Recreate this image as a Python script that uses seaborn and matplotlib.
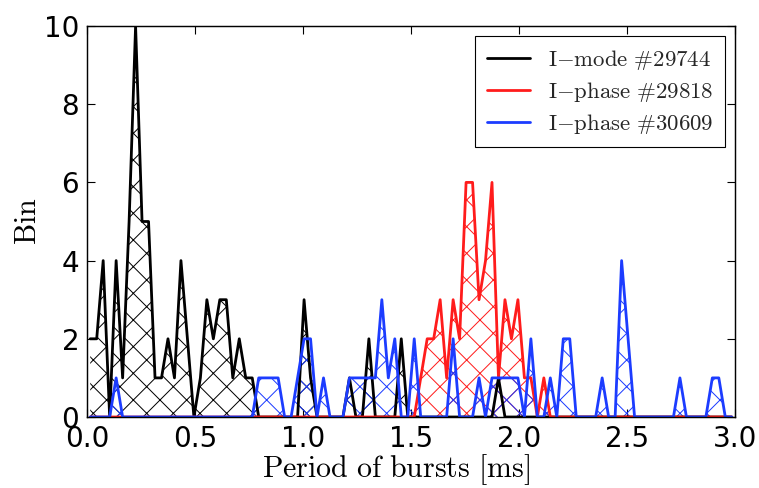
import matplotlib
matplotlib.use("Agg")
import matplotlib.pyplot as plt
import numpy as np
import seaborn as sns

# histogram of burst periods, 0.03 ms bins between 0 and 3 ms
bin_edges = np.linspace(0.0, 3.0, 101)
bin_centres = 0.5 * (bin_edges[:-1] + bin_edges[1:])

# counts per bin, rows of 10 bins
imode_29744 = [2, 2, 4, 0, 4, 1, 5, 10, 5, 5,
               1, 1, 2, 1, 4, 2, 0, 1, 3, 2,
               3, 3, 1, 2, 1, 1, 0, 0, 0, 0,
               0, 0, 0, 3, 1, 0, 0, 0, 0, 0,
               1, 0, 0, 2, 0, 0, 0, 0, 2, 0,
               0, 0, 0, 0, 0, 0, 0, 0, 0, 0,
               0, 0, 0, 1, 0, 0, 0, 0, 0, 0,
               0, 0, 0, 0, 0, 0, 0, 0, 0, 0,
               0, 0, 0, 0, 0, 0, 0, 0, 0, 0,
               0, 0, 0, 0, 0, 0, 0, 0, 0, 0]

iphase_29818 = [0, 0, 0, 0, 0, 0, 0, 0, 0, 0,
                0, 0, 0, 0, 0, 0, 0, 0, 0, 0,
                0, 0, 0, 0, 0, 0, 0, 0, 0, 0,
                0, 0, 0, 0, 0, 0, 0, 0, 0, 0,
                0, 0, 0, 0, 0, 0, 0, 0, 0, 0,
                0, 1, 2, 2, 3, 1, 3, 2, 6, 6,
                3, 4, 6, 1, 3, 2, 3, 1, 1, 0,
                1, 0, 0, 0, 0, 0, 0, 0, 0, 0,
                0, 0, 0, 0, 0, 0, 0, 0, 0, 0,
                0, 0, 0, 0, 0, 0, 0, 0, 0, 0]

iphase_30609 = [0, 0, 0, 0, 1, 0, 0, 0, 0, 0,
                0, 0, 0, 0, 0, 0, 0, 0, 0, 0,
                0, 0, 0, 0, 0, 0, 1, 1, 1, 1,
                0, 0, 1, 2, 2, 0, 1, 0, 0, 0,
                1, 1, 1, 1, 1, 3, 1, 2, 0, 0,
                2, 0, 0, 0, 0, 0, 2, 0, 0, 0,
                1, 0, 1, 1, 1, 1, 1, 0, 2, 0,
                0, 1, 0, 2, 2, 0, 0, 0, 0, 1,
                0, 0, 4, 2, 0, 0, 0, 0, 0, 0,
                0, 1, 0, 0, 0, 0, 1, 1, 0, 0]

labels = [r'$\mathrm{I{-}mode\ \#29744}$',
          r'$\mathrm{I{-}phase\ \#29818}$',
          r'$\mathrm{I{-}phase\ \#30609}$']
colors = ['black', '#ff1c1c', '#1c3cff']

sns.set_style("ticks")
plt.rcParams['mathtext.fontset'] = 'cm'
plt.rcParams['font.family'] = ['DejaVu Sans']
plt.rcParams['hatch.linewidth'] = 0.9

fig = plt.figure(figsize=(759 / 80, 488 / 80), dpi=80)
ax = fig.add_axes([0.1146, 0.1455, 0.8538, 0.8012])

for counts, lab, col in zip([imode_29744, iphase_29818, iphase_30609], labels, colors):
    sns.lineplot(x=bin_centres, y=counts, color=col, lw=2.5, label=lab, ax=ax)
    ax.fill_between(bin_centres, 0, counts, facecolor='none', edgecolor=col,
                    hatch='x', linewidth=0)

ax.set_xlim(0, 3)
ax.set_ylim(0, 10)
ax.set_xticks(np.arange(0, 3.01, 0.5))
ax.set_yticks(np.arange(0, 11, 2))
ax.tick_params(direction='in', length=7, width=1, top=True, right=True,
               labelsize=25, pad=7, colors='black')
for sp in ax.spines.values():
    sp.set_linewidth(1.3)
    sp.set_color('black')

ax.set_xlabel(r'$\mathrm{Period\ of\ bursts\ [ms]}$', fontsize=27, color='black')
ax.set_ylabel(r'$\mathrm{Bin}$', fontsize=27, color='black')
ax.xaxis.set_label_coords(0.477, -0.09)
ax.yaxis.set_label_coords(-0.07, 0.5)

leg = ax.legend(loc='upper right', fontsize=20.5, fancybox=False, framealpha=1,
                edgecolor='black', handlelength=1.9, borderaxespad=0.45,
                labelspacing=0.36, borderpad=0.5, handletextpad=0.8)
leg.get_frame().set_linewidth(1)

fig.savefig('out.png', dpi=80)
